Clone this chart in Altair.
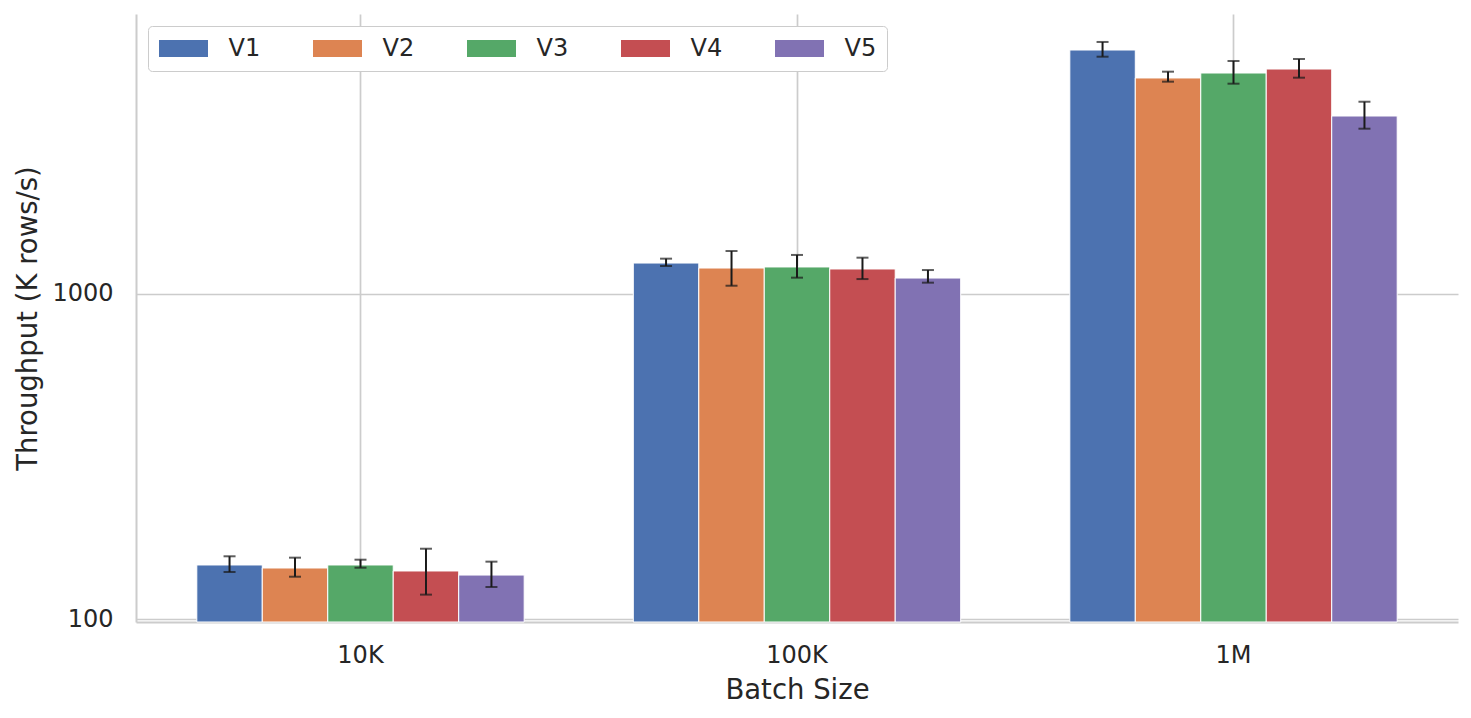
import altair as alt
import pandas as pd

groups = ["10K", "100K", "1M"]
versions = ["V1", "V2", "V3", "V4", "V5"]
colors = ["#4C72B0", "#DD8452", "#55A868", "#C44E52", "#8172B3"]

mean_10k = [147.0, 143.9, 147.0, 140.9, 136.9]
mean_100k = [1242, 1199, 1208, 1191, 1117]
mean_1m = [5598, 4594, 4758, 4894, 3511]

low_10k = [139.9, 135.3, 144.2, 119.2, 125.8]
low_100k = [1216, 1058, 1120, 1109, 1081]
low_1m = [5339, 4475, 4412, 4603, 3210]

high_10k = [156.3, 154.8, 152.6, 164.9, 150.5]
high_100k = [1281, 1352, 1315, 1290, 1182]
high_1m = [5925, 4803, 5180, 5254, 3884]

means = [mean_10k, mean_100k, mean_1m]
lows = [low_10k, low_100k, low_1m]
highs = [high_10k, high_100k, high_1m]

rows = []
for gi, g in enumerate(groups):
    for vi, v in enumerate(versions):
        rows.append({"batch": g, "version": v, "tp": means[gi][vi],
                     "lo": lows[gi][vi], "hi": highs[gi][vi]})
df = pd.DataFrame(rows)

Y_MIN, Y_MAX = 98.24, 7220
FONT = "DejaVu Sans"
TXT = "#262626"
GRID = "#cccccc"

x_enc = alt.X("batch:N", sort=groups,
              scale=alt.Scale(paddingInner=0.25, paddingOuter=0.1393),
              axis=alt.Axis(title="Batch Size", labelAngle=0, tickSize=0,
                            labelPadding=21, grid=True, gridColor=GRID,
                            gridWidth=1.7, domainColor=GRID, domainWidth=2,
                            titleY=76, titleBaseline="alphabetic"))
xo = alt.XOffset("version:N", sort=versions,
                 scale=alt.Scale(paddingInner=0, paddingOuter=0))
y_scale = alt.Scale(type="log", domain=[Y_MIN, Y_MAX], nice=False, clamp=True)

base = alt.Chart(df)

bars = base.mark_bar(stroke="white", strokeWidth=1).encode(
    x=x_enc,
    xOffset=xo,
    y=alt.Y("tp:Q", scale=y_scale,
            axis=alt.Axis(title="Throughput (K rows/s)", values=[100, 1000],
                          format="d", tickSize=0, labelPadding=23,
                          grid=True, gridColor=GRID, gridWidth=1.7,
                          domainColor=GRID, domainWidth=2,
                          titleX=-108, titleY=304, titleAngle=-90,
                          titleAlign="center", titleBaseline="middle")),
    y2=alt.datum(Y_MIN),
    color=alt.Color("version:N", sort=versions,
                    scale=alt.Scale(domain=versions, range=colors),
                    legend=alt.Legend(
                        title=None, orient="none", legendX=12, legendY=12,
                        direction="horizontal", columns=5,
                        symbolType="M-1.353,-1L4.412,-1L4.412,1L-1.353,1Z",
                        symbolSize=289, symbolStrokeWidth=0,
                        labelOffset=46, columnPadding=52,
                        padding=10.5, strokeColor=GRID, cornerRadius=4,
                        fillColor="white", labelFontSize=24,
                        labelColor=TXT, labelFont=FONT)),
)

err = base.mark_rule(color="#1a1a1a", strokeWidth=2).encode(
    x=alt.X("batch:N", sort=groups),
    xOffset=xo,
    y=alt.Y("lo:Q", scale=y_scale),
    y2="hi:Q",
)
cap_lo = base.mark_tick(color="#1a1a1a", thickness=2, size=12).encode(
    x=alt.X("batch:N", sort=groups),
    xOffset=xo,
    y=alt.Y("lo:Q", scale=y_scale),
)
cap_hi = base.mark_tick(color="#1a1a1a", thickness=2, size=12).encode(
    x=alt.X("batch:N", sort=groups),
    xOffset=xo,
    y=alt.Y("hi:Q", scale=y_scale),
)

chart = alt.layer(bars, err, cap_lo, cap_hi).properties(
    width=1322, height=608,
    autosize=alt.AutoSizeParams(type="none"),
    padding={"left": 128, "top": 6, "right": 5, "bottom": 88},
    background="white",
).configure_view(stroke=None).configure_axis(
    labelFont=FONT, titleFont=FONT, labelFontSize=24, titleFontSize=27.5,
    labelColor=TXT, titleColor=TXT, titleFontWeight="normal",
)

chart.save("out.html", embed_options={"renderer": "svg", "actions": False})
